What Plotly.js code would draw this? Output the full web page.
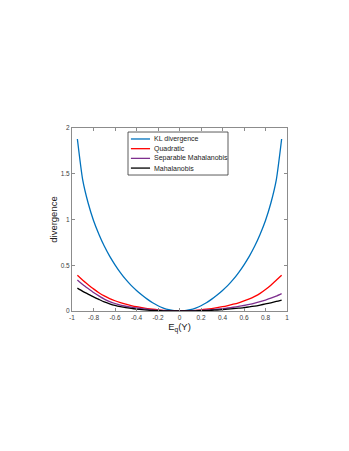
<!DOCTYPE html>
<html>
<head>
<meta charset="utf-8">
<script src="https://cdn.plot.ly/plotly-3.0.1.min.js"></script>
<style>
  body { margin: 0; background: #fff; }
  #plot { width: 349px; height: 451px; }
</style>
</head>
<body>
<div id="plot"></div>
<script>
// E_q(Y) sample points
let xVals = [-0.95, -0.9, -0.85, -0.8, -0.75, -0.7, -0.65, -0.6, -0.55, -0.5, -0.45, -0.4, -0.35, -0.3, -0.25, -0.2, -0.15, -0.1, -0.05, 0,
             0.05, 0.1, 0.15, 0.2, 0.25, 0.3, 0.35, 0.4, 0.45, 0.5, 0.55, 0.6, 0.65, 0.7, 0.75, 0.8, 0.85, 0.9, 0.95];

// divergence values
let klVals = [1.88, 1.43, 1.18, 0.99, 0.84, 0.71, 0.6, 0.505, 0.42, 0.345, 0.28, 0.225, 0.175, 0.13, 0.09, 0.057, 0.032, 0.014, 0.0035, 0,
              0.0035, 0.014, 0.032, 0.057, 0.09, 0.13, 0.175, 0.225, 0.28, 0.345, 0.42, 0.505, 0.6, 0.71, 0.84, 0.99, 1.18, 1.43, 1.88];
let quadVals = [0.39, 0.335, 0.288, 0.242, 0.2, 0.165, 0.136, 0.112, 0.091, 0.074, 0.06, 0.047, 0.036, 0.027, 0.019, 0.012, 0.007, 0.003, 0.001, 0,
                0.001, 0.003, 0.007, 0.012, 0.019, 0.027, 0.036, 0.047, 0.06, 0.074, 0.09, 0.11, 0.132, 0.16, 0.193, 0.235, 0.282, 0.335, 0.39];
let sepMahaVals = [0.34, 0.29, 0.245, 0.202, 0.165, 0.13, 0.103, 0.082, 0.065, 0.052, 0.042, 0.034, 0.026, 0.019, 0.013, 0.008, 0.0045, 0.002, 0.0005, 0,
                   0.0005, 0.002, 0.004, 0.007, 0.011, 0.015, 0.02, 0.026, 0.033, 0.041, 0.05, 0.06, 0.072, 0.086, 0.102, 0.12, 0.14, 0.163, 0.19];
let mahaVals = [0.25, 0.215, 0.185, 0.155, 0.127, 0.1, 0.079, 0.061, 0.047, 0.036, 0.028, 0.021, 0.015, 0.01, 0.006, 0.0035, 0.002, 0.001, 0.0003, 0,
                0.0002, 0.0008, 0.002, 0.0035, 0.005, 0.008, 0.011, 0.015, 0.02, 0.025, 0.031, 0.037, 0.045, 0.054, 0.065, 0.077, 0.09, 0.104, 0.12];

let seriesNames = ["KL divergence", "Quadratic", "Separable Mahalanobis", "Mahalanobis"];
let seriesColors = ["#0072BD", "#FF0000", "#7E2F8E", "#000000"];
let seriesVals = [klVals, quadVals, sepMahaVals, mahaVals];

let xTicks = [-1, -0.8, -0.6, -0.4, -0.2, 0, 0.2, 0.4, 0.6, 0.8, 1];
let yTicks = [0, 0.5, 1, 1.5, 2];

let traces = seriesVals.map((vals, i) => ({
    x: xVals,
    y: vals,
    type: "scatter",
    mode: "lines",
    name: seriesNames[i],
    line: {color: seriesColors[i], width: 1.3, shape: "spline", smoothing: 0.6},
    showlegend: false
}));

// small MATLAB-like legend box (plotly's own legend rows are too tall here)
let legX0 = 0.2605, legX1 = 0.7256, legY0 = 0.743, legY1 = 0.978;
let shapes = [{
    type: "rect", xref: "paper", yref: "paper",
    x0: legX0, x1: legX1, y0: legY0, y1: legY1,
    line: {color: "#333", width: 0.8}, fillcolor: "#fff", layer: "above"
}];
let annotations = [];
let rowY = [0.940, 0.887, 0.834, 0.781];
seriesNames.forEach((name, i) => {
    shapes.push({
        type: "line", xref: "paper", yref: "paper",
        x0: 0.274, x1: 0.363, y0: rowY[i], y1: rowY[i],
        line: {color: seriesColors[i], width: 1.3}, layer: "above"
    });
    annotations.push({
        xref: "paper", yref: "paper", x: 0.372, y: rowY[i],
        xanchor: "left", yanchor: "middle", showarrow: false,
        text: name, font: {size: 7, color: "#222"}
    });
});

let axisStyle = {
    showgrid: false, zeroline: false,
    showline: true, linecolor: "#8c8c8c", linewidth: 1, mirror: "ticks",
    ticks: "inside", ticklen: 3, tickcolor: "#8c8c8c",
    tickfont: {size: 6.5, color: "#404040"}
};

let layout = {
    width: 349, height: 451,
    margin: {l: 72, r: 62, t: 128, b: 140},
    paper_bgcolor: "#fff", plot_bgcolor: "#fff",
    font: {family: "Liberation Sans, Arial, sans-serif"},
    xaxis: Object.assign({}, axisStyle, {
        range: [-1, 1], tickvals: xTicks, ticktext: xTicks.map(String),
        title: {text: "E<sub>q</sub>(Y)", font: {size: 9.5, color: "#222"}, standoff: 3}
    }),
    yaxis: Object.assign({}, axisStyle, {
        range: [0, 2], tickvals: yTicks, ticktext: yTicks.map(String),
        title: {text: "divergence", font: {size: 9.5, color: "#222"}, standoff: 1}
    }),
    shapes: shapes,
    annotations: annotations
};

Plotly.newPlot("plot", traces, layout, {displayModeBar: false, staticPlot: true});
</script>
</body>
</html>
